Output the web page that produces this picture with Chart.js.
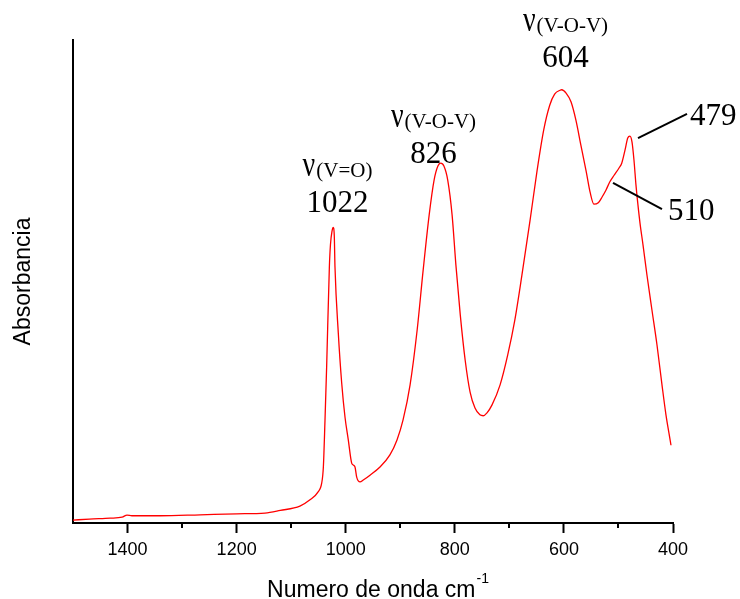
<!DOCTYPE html>
<html>
<head>
<meta charset="utf-8">
<script src="https://cdn.jsdelivr.net/npm/chart.js@4.4.1/dist/chart.umd.min.js"></script>
<style>
html,body{margin:0;padding:0;background:#fff;}
#wrap{width:740px;height:599px;position:relative;}
</style>
</head>
<body>
<div id="wrap"><canvas id="c"></canvas></div>
<script>
// ---- Data ----
const wavenumbers = [1500,1470,1432,1410,1401,1392,1340,1267,1200,1148,1120,1084,1065.5,1051,1044,1041,1038,1035,1030,1028,1025,1023,1021,1019.7,1013.6,1007.4,1001.3,995.3,989.1,986.1,983,979.9,973.8,967.8,955.5,937.2,919,906,895,882,869,858,847,838,831,826,820,813,805,798,790,781,772,763,754,748,741,732,717,703,690,677,662,649,637,626,617,607,604,596,587,578,569,559,552,545,537,530,523,516,508,499,494,488,483,479,475.2,471.6,467.9,464.2,460.5,455,447.7,438.6,429.4,420.2,412.9,407.4,403.7];
const absorbance  = [0.006,0.008,0.010,0.012,0.0165,0.015,0.015,0.017,0.019,0.0205,0.026,0.035,0.048,0.064,0.083,0.116,0.213,0.323,0.530,0.576,0.605,0.612,0.595,0.530,0.393,0.290,0.219,0.172,0.124,0.120,0.116,0.095,0.085,0.089,0.099,0.116,0.141,0.172,0.213,0.286,0.400,0.524,0.638,0.710,0.739,0.745,0.739,0.710,0.638,0.534,0.431,0.337,0.271,0.238,0.224,0.222,0.228,0.244,0.286,0.348,0.420,0.513,0.627,0.731,0.814,0.865,0.888,0.896,0.897,0.890,0.872,0.834,0.783,0.727,0.685,0.660,0.663,0.675,0.689,0.706,0.720,0.735,0.745,0.772,0.797,0.801,0.789,0.752,0.700,0.658,0.621,0.576,0.513,0.441,0.369,0.286,0.224,0.186,0.161];
const minorTicks = [1300,1100,900,700,500];
const bandNumbers = ['1022','826','604'];
const bandModes = ['(V=O)','(V-O-V)','(V-O-V)'];
const sideNumbers = ['479','510'];

// ---- annotation placement (data coordinates) ----
const bandPos = [{wn:1015.1,a:0.644},{wn:839.1,a:0.745},{wn:597.1,a:0.944}];
const sidePos = [{wn:368.8,a:0.824},{wn:409.2,a:0.627}];
const leaders = [
  {from:{wn:464.2,a:0.797}, to:{wn:374.3,a:0.847}},
  {from:{wn:510,a:0.704}, to:{wn:420.2,a:0.650}}
];

Chart.defaults.color = '#000';
Chart.defaults.font.family = '"Liberation Sans", Arial, sans-serif';

const annotPlugin = {
  id: 'annot',
  afterDraw(chart) {
    const {ctx, scales:{x, y}, chartArea} = chart;
    ctx.save();
    // minor ticks on the x axis
    ctx.strokeStyle = '#000';
    ctx.lineWidth = 2;
    minorTicks.forEach(v => {
      const px = Math.round(x.getPixelForValue(v));
      ctx.beginPath();
      ctx.moveTo(px, chartArea.bottom);
      ctx.lineTo(px, chartArea.bottom + 5);
      ctx.stroke();
    });
    // band labels
    ctx.fillStyle = '#000';
    bandNumbers.forEach((num, i) => {
      const cx = x.getPixelForValue(bandPos[i].wn);
      const by = y.getPixelForValue(bandPos[i].a);
      ctx.font = '31px "Liberation Serif", "Times New Roman", serif';
      ctx.textAlign = 'center';
      ctx.textBaseline = 'alphabetic';
      ctx.fillText(num, cx, by);
      // nu + subscript
      ctx.textAlign = 'left';
      const nuFont = '28px "Liberation Serif", "Times New Roman", serif';
      const subFont = '21px "Liberation Serif", "Times New Roman", serif';
      ctx.font = nuFont;
      const wNu = ctx.measureText('ν').width;
      ctx.font = subFont;
      const wSub = ctx.measureText(bandModes[i]).width;
      const total = wNu + 1 + wSub;
      const sx = cx - total / 2;
      ctx.save();
      ctx.translate(sx, by - 36);
      ctx.scale(1, 1.3);
      ctx.font = nuFont;
      ctx.fillText('ν', 0, 0);
      ctx.restore();
      ctx.font = subFont;
      ctx.fillText(bandModes[i], sx + wNu + 1, by - 35);
    });
    // side labels
    ctx.font = '31px "Liberation Serif", "Times New Roman", serif';
    ctx.textAlign = 'left';
    sideNumbers.forEach((t, i) => {
      ctx.fillText(t, x.getPixelForValue(sidePos[i].wn), y.getPixelForValue(sidePos[i].a));
    });
    // leader lines
    ctx.lineWidth = 2;
    leaders.forEach(l => {
      ctx.beginPath();
      ctx.moveTo(x.getPixelForValue(l.from.wn), y.getPixelForValue(l.from.a));
      ctx.lineTo(x.getPixelForValue(l.to.wn), y.getPixelForValue(l.to.a));
      ctx.stroke();
    });
    // x axis title with superscript
    const main = 'Numero de onda cm';
    const sup = '-1';
    ctx.font = '23px "Liberation Sans", Arial, sans-serif';
    const wm = ctx.measureText(main).width;
    ctx.font = '14px "Liberation Sans", Arial, sans-serif';
    const ws = ctx.measureText(sup).width;
    const cxm = (chartArea.left + chartArea.right) / 2 + 5;
    const left = cxm - (wm + 1 + ws) / 2;
    const base = chartArea.bottom + 74;
    ctx.font = '23px "Liberation Sans", Arial, sans-serif';
    ctx.fillText(main, left, base);
    ctx.font = '14px "Liberation Sans", Arial, sans-serif';
    ctx.fillText(sup, left + wm + 1, base - 14);
    ctx.restore();
  }
};

const points = wavenumbers.map((w, i) => ({x: w, y: absorbance[i]}));

new Chart(document.getElementById('c'), {
  type: 'line',
  data: {
    datasets: [{
      data: points,
      borderColor: '#ff0000',
      borderWidth: 1.3,
      pointRadius: 0,
      fill: false,
      cubicInterpolationMode: 'monotone'
    }]
  },
  options: {
    responsive: true,
    maintainAspectRatio: false,
    animation: false,
    layout: {padding: {left: 0, right: 67, top: 40, bottom: 0}},
    plugins: {legend: {display: false}, tooltip: {enabled: false}},
    scales: {
      x: {
        type: 'linear',
        reverse: true,
        min: 400,
        max: 1500,
        ticks: {stepSize: 200, includeBounds: false, padding: 6, font: {size: 18}, color: '#000', maxRotation: 0,
                callback: v => String(v)},
        grid: {display: true, drawOnChartArea: false, drawTicks: true, tickLength: 10, tickColor: '#000', tickWidth: 2},
        border: {display: true, color: '#000', width: 2},
        afterFit(scale) { scale.height = 76; }
      },
      y: {
        type: 'linear',
        min: 0,
        max: 1,
        ticks: {display: false},
        grid: {display: true, drawOnChartArea: false, drawTicks: false},
        border: {display: true, color: '#000', width: 2},
        title: {display: true, text: 'Absorbancia', font: {size: 23}, color: '#000', padding: {top: 10, bottom: 0}},
        afterFit(scale) { scale.width = 73; }
      }
    }
  },
  plugins: [annotPlugin]
});
</script>
</body>
</html>
